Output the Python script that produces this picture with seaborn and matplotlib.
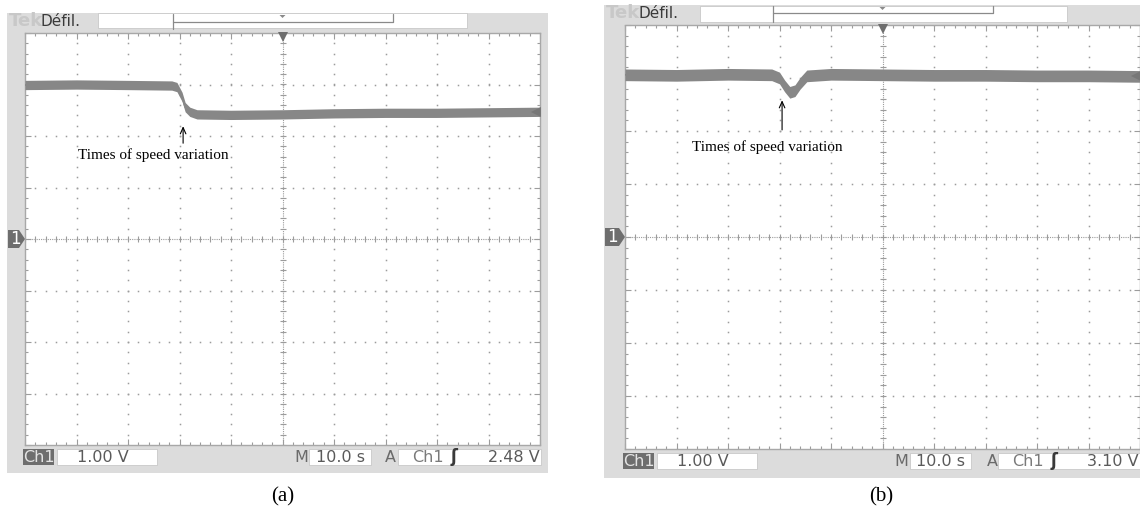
import numpy as np
import matplotlib
matplotlib.use("Agg")
import matplotlib.pyplot as plt
from matplotlib.patches import Rectangle, Polygon
import seaborn as sns

# ---------------- data ----------------
# panel (a): time [s], channel-1 level [V] (centre of the noisy band)
time_a = [0, 10, 20, 28.5, 29.5, 30.5, 31.1, 32.0, 33.4, 40, 50, 60, 70, 80, 90, 100]
volt_a = [2.99, 3.00, 2.99, 2.98, 2.95, 2.76, 2.56, 2.47, 2.42, 2.41, 2.42, 2.44, 2.45, 2.45, 2.46, 2.47]
noise_a = 0.09
# panel (b)
time_b = [0, 10, 20, 28.5, 30.0, 31.0, 32.0, 33.0, 34.0, 35.3, 40, 50, 60, 70, 80, 90, 100]
volt_b = [3.06, 3.05, 3.07, 3.06, 3.00, 2.85, 2.73, 2.76, 2.90, 3.04, 3.07, 3.06, 3.05, 3.05, 3.04, 3.04, 3.03]
noise_b = 0.11

panel_labels = ["(a)", "(b)"]
volts_div = "1.00 V"
time_div = "10.0 s"
trigger_levels = ["2.48 V", "3.10 V"]
annotation = "Times of speed variation"
arrow_time = [30.7, 30.5]
arrow_tip = [2.19, 2.58]
arrow_tail = [1.86, 2.02]
text_pos = [(25.0, 1.62), (27.6, 1.70)]

# ---------------- style ----------------
sns.set_style("white")
plt.rcParams["font.family"] = ["DejaVu Sans"]
SERIF = ["Liberation Serif", "DejaVu Serif"]

W, H = 1140, 511
fig = plt.figure(figsize=(W / 100, H / 100), dpi=100)
fig.patch.set_facecolor("white")

FRAME = "#dcdcdc"
DARK = "#6e6e6e"
TRACE = "#878787"
GRIDC = "#9c9c9c"
STAT = 11.5


def fx(x):
    return x / W


def fy(y):
    return 1 - y / H


def rect(x0, y0, x1, y1, fc, ec="none", lw=0, z=-2):
    fig.add_artist(Rectangle((fx(x0), fy(y1)), (x1 - x0) / W, (y1 - y0) / H,
                             transform=fig.transFigure, facecolor=fc,
                             edgecolor=ec, linewidth=lw, zorder=z))


def line(xs, ys, color, lw=1.0, z=3):
    fig.add_artist(plt.Line2D([fx(v) for v in xs], [fy(v) for v in ys],
                              transform=fig.transFigure, color=color, lw=lw, zorder=z))


def ftext(x, y, s, ha="center", **kw):
    fig.text(fx(x), fy(y), s, ha=ha, va="center", **kw)


panels = [
    dict(frame=(7, 13, 548, 473), grid=(25, 33, 540, 445), topbox=(98, 13, 467, 28),
         bracket=(173, 393, 14, 29, 22), tek=(9, 21), chan=(7, 25, 230, 248),
         bar=449, barh=16, ch=(23, 54), vbox=(57, 157), m=301, tbox=(309, 371), a=390,
         trig=(398, 541), trig_ch=412, edge=454, trig_r=540, label=(283, 497),
         t=time_a, v=volt_a, n=noise_a),
    dict(frame=(604, 5, 1145, 478), grid=(625, 25, 1140, 449), topbox=(700, 6, 1067, 22),
         bracket=(773, 993, 6, 22, 13), tek=(606, 13), chan=(604, 625, 228, 246),
         bar=453, barh=16, ch=(623, 654), vbox=(657, 757), m=901, tbox=(910, 971), a=992,
         trig=(998, 1145), trig_ch=1012, edge=1054, trig_r=1139, label=(881, 497),
         t=time_b, v=volt_b, n=noise_b),
]

for i, p in enumerate(panels):
    x0, y0, x1, y1 = p["frame"]
    rect(x0, y0, x1, y1, FRAME, z=-3)
    # top bar
    bx0, by0, bx1, by1 = p["topbox"]
    rect(bx0, by0, bx1, by1, "white", ec="#c8c8c8", lw=0.6, z=-2)
    l, r, t_, b_, mid = p["bracket"]
    line([l, l, r, r], [t_, mid, mid, t_], "#8a8a8a", lw=0.9, z=-1)
    line([l, l], [mid, b_], "#8a8a8a", lw=0.9, z=-1)
    cx = (p["grid"][0] + p["grid"][2]) / 2
    fig.add_artist(Polygon([(fx(cx - 3), fy(t_ + 1)), (fx(cx + 3), fy(t_ + 1)), (fx(cx), fy(t_ + 4))],
                           closed=True, transform=fig.transFigure, fc="#8a8a8a", ec="none", zorder=-1))
    tx, ty = p["tek"]
    ftext(tx, ty, "Tek", ha="left", color="#c8c8c8", fontsize=13, fontweight="bold")
    ftext(tx + 32, ty, "Défil.", ha="left", color="#3a3a3a", fontsize=11)

    # channel marker on the left
    c0, c1, cy0, cy1 = p["chan"]
    cym = (cy0 + cy1) / 2
    fig.add_artist(Polygon([(fx(c0 + 1), fy(cy0)), (fx(c1 - 6), fy(cy0)), (fx(c1), fy(cym)),
                            (fx(c1 - 6), fy(cy1)), (fx(c0 + 1), fy(cy1))], closed=True,
                           transform=fig.transFigure, fc=DARK, ec="none", zorder=5))
    ftext(c0 + 8, cym, "1", color="white", fontsize=12, zorder=6)

    # bottom bar
    yb, hb = p["bar"], p["barh"]
    yc = yb + hb / 2
    rect(p["ch"][0], yb, p["ch"][1], yb + hb, DARK, z=-2)
    ftext((p["ch"][0] + p["ch"][1]) / 2, yc, "Ch1", color="#e4e4e4", fontsize=STAT)
    rect(p["vbox"][0], yb, p["vbox"][1], yb + hb, "white", ec="#c8c8c8", lw=0.6)
    ftext(p["vbox"][0] + 20, yc, volts_div, ha="left", color="#5a5a5a", fontsize=STAT)
    ftext(p["m"], yc, "M", color="#6a6a6a", fontsize=STAT)
    rect(p["tbox"][0], yb, p["tbox"][1], yb + hb, "white", ec="#c8c8c8", lw=0.6)
    ftext((p["tbox"][0] + p["tbox"][1]) / 2, yc, time_div, color="#5a5a5a", fontsize=STAT)
    ftext(p["a"], yc, "A", color="#6a6a6a", fontsize=STAT)
    rect(p["trig"][0], yb, p["trig"][1], yb + hb, "white", ec="#c8c8c8", lw=0.6)
    ftext(p["trig_ch"], yc, "Ch1", ha="left", color="#7a7a7a", fontsize=STAT)
    ftext(p["edge"], yc, "ʃ", color="#3a3a3a", fontsize=12, fontweight="bold")
    ftext(p["trig_r"], yc, trigger_levels[i], ha="right", color="#5a5a5a", fontsize=STAT)

    # panel label
    ftext(p["label"][0], p["label"][1], panel_labels[i], family=SERIF, fontsize=15, color="black")

    # graticule axes
    gx0, gy0, gx1, gy1 = p["grid"]
    ax = fig.add_axes([fx(gx0), fy(gy1), (gx1 - gx0) / W, (gy1 - gy0) / H])
    ax.set_facecolor("white")
    ax.set_xlim(0, 100)
    ax.set_ylim(-4, 4)
    ax.set_xticks(np.arange(0, 101, 10))
    ax.set_yticks(np.arange(-4, 4.01, 1))
    ax.set_xticks(np.arange(0, 101, 2), minor=True)
    ax.set_yticks(np.arange(-4, 4.01, 0.2), minor=True)
    ax.tick_params(which="both", direction="in", top=True, right=True, bottom=True, left=True,
                   labelbottom=False, labelleft=False, color=GRIDC, width=0.8)
    ax.tick_params(which="major", length=4)
    ax.tick_params(which="minor", length=2.5)
    for s in ax.spines.values():
        s.set_color("#a8a8a8")
        s.set_linewidth(1.0)
        s.set_linestyle((0, (1, 1)))

    yy = np.arange(-4, 4.01, 0.2)
    xx = np.arange(0, 100.1, 2)
    for xv in range(10, 100, 10):
        if xv == 50:
            continue
        ax.plot([xv] * len(yy), yy, ls="none", marker="s", ms=1.1, mew=0, color=GRIDC, zorder=1)
    for yv in range(-3, 4):
        if yv == 0:
            continue
        ax.plot(xx, [yv] * len(xx), ls="none", marker="s", ms=1.1, mew=0, color=GRIDC, zorder=1)
    ax.axhline(0, color=GRIDC, lw=0.8, ls=(0, (1, 1)), zorder=1)
    ax.axvline(50, color=GRIDC, lw=0.8, ls=(0, (1, 1)), zorder=1)
    ax.plot(xx, [0] * len(xx), ls="none", marker="|", ms=4, mew=0.8, color=GRIDC, zorder=1)
    ax.plot([50] * len(yy), yy, ls="none", marker="_", ms=4, mew=0.8, color=GRIDC, zorder=1)

    # trace
    tt = np.array(p["t"])
    vv = np.array(p["v"])
    ax.fill_between(tt, vv - p["n"], vv + p["n"], color=TRACE, lw=0, zorder=3)
    sns.lineplot(x=p["t"], y=p["v"], ax=ax, color=TRACE, lw=1.2, sort=False, zorder=3)

    # markers
    ax.plot(50, 3.93, marker="v", ms=7, color=DARK, mew=0, clip_on=False, zorder=4)
    ax.plot(99.3, vv[-1], marker="<", ms=7, color="#777777", mew=0, clip_on=False, zorder=4)

    # annotation
    ax.annotate("", xy=(arrow_time[i], arrow_tip[i]), xytext=(arrow_time[i], arrow_tail[i]),
                arrowprops=dict(arrowstyle="->,head_length=0.45,head_width=0.2", lw=0.8,
                                color="black", shrinkA=0, shrinkB=0))
    ax.text(text_pos[i][0], text_pos[i][1], annotation, ha="center", va="center",
            family=SERIF, fontsize=11, color="black")
    ax.set_xlabel("")
    ax.set_ylabel("")

fig.savefig("out.png", dpi=100, facecolor="white")
